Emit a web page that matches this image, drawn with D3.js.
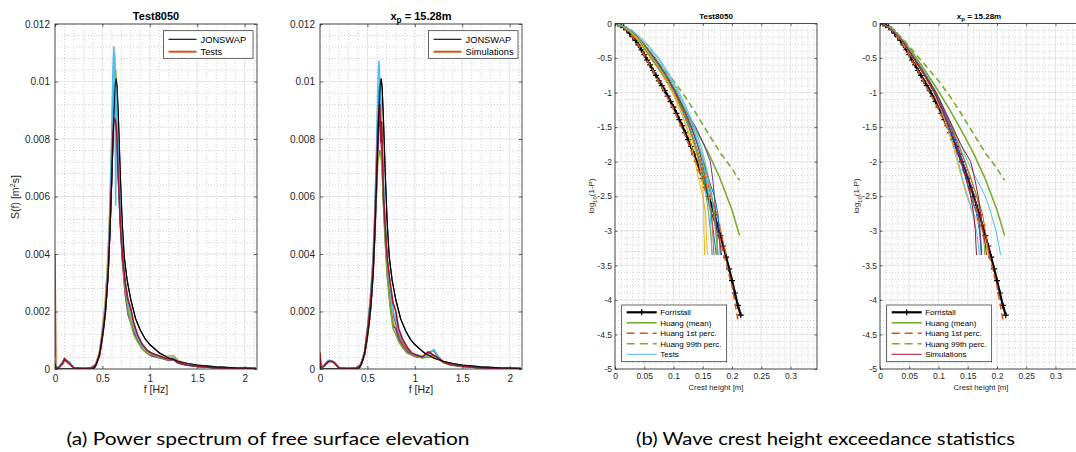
<!DOCTYPE html>
<html>
<head>
<meta charset="utf-8">
<script src="https://cdn.jsdelivr.net/npm/d3@7"></script>
<style>
body { margin: 0; background: #fff; }
</style>
</head>
<body>
<svg id="fig" width="1076" height="452"></svg>
<script>
// ---------- spectra (values in 1e-4 m^2 s) ----------
var freq = [0,0.01,0.04,0.08,0.1,0.13,0.15,0.2,0.3,0.38,0.43,0.47,0.5,0.53,0.56,0.58,0.6,0.61,0.62,0.63,0.64,0.65,0.66,0.67,0.69,0.71,0.74,0.77,0.8,0.83,0.87,0.92,0.97,1.02,1.08,1.14,1.2,1.25,1.3,1.38,1.5,1.65,1.8,2.0,2.12];

var jonFreq = [0,0.38,0.4,0.42,0.44,0.46,0.48,0.5,0.52,0.54,0.56,0.58,0.6,0.62,0.635,0.645,0.655,0.67,0.69,0.71,0.73,0.76,0.8,0.85,0.9,0.95,1.0,1.1,1.2,1.3,1.4,1.5,1.7,1.9,2.12];
var jonS = [0,0,0.05,0.6,2,4,7,11,16,23,33,48,67,88,99,101,98,86,66,50,39,31,24,17.5,13.5,10.5,8.5,5.6,3.8,2.7,1.9,1.4,0.75,0.42,0.25];

// Test8050 (measured)
var testBlue   = [2,0.4,0.5,1.8,3,2.5,2.2,0.4,0.2,0.3,1.4,5,12,21,36,52,74,88,97,96,92,86,78,68,52,40,29,22,18,15,11.5,8.5,6.5,5.5,4.5,3.8,3.5,3.8,2.4,1.6,1,0.55,0.32,0.2,0.11];
var testOrange = [40,1,0.5,2.5,3.8,2.6,1.8,0.3,0.2,0.4,1.8,6,13,22,38,55,76,86,92,88,94,90,80,70,54,41,30,23,19,16,11,8.5,6.5,5,4.5,3.8,4.2,3.5,2.2,1.5,0.9,0.5,0.3,0.2,0.1];
var testYellow = [4,0.6,0.5,2,3,2.2,2,0.4,0.2,0.3,1.6,6,14,24,40,58,82,98,108,110,100,90,80,70,54,40,30,22,18,14,11,8,6.5,5.5,4.6,4.2,4.5,4.8,3,1.8,1.1,0.6,0.35,0.2,0.12];
var testPurple = [2,0.4,0.4,1.8,3.2,2.4,1.8,0.3,0.2,0.3,1.2,4.5,11,19,33,50,70,84,90,93,90,82,74,65,50,38,26,19,16,13,10,7,5.5,4.5,4,3.6,3,3.2,2,1.4,0.9,0.5,0.3,0.18,0.1];
var testGreen  = [3,0.5,0.5,2.2,3.4,2.5,2,0.4,0.2,0.3,1.4,5,12,20,34,52,76,90,97,100,104,95,80,70,52,39,28,20,16,12,9.5,7,5.5,5,4.2,3.8,3.2,3.5,2.4,1.5,1,0.6,0.35,0.2,0.12];
var testLBlue  = [3,0.5,0.6,2.4,3.6,2.8,2.6,0.4,0.2,0.3,1.5,5.5,13,22,38,56,82,102,112,105,57,98,84,72,55,42,31,23,19,15,11,8,6.5,5.5,4.8,4.2,4,4.2,2.6,1.7,1.1,0.6,0.35,0.2,0.12];
var testDRed   = [2,0.4,0.5,2,3.5,2.6,2,0.4,0.2,0.3,1.3,5,12,20,34,50,70,81,86,87,86,82,74,65,50,40,30,24,21,16,12,8.5,6.5,5.5,4.8,4,3.6,3.4,2.3,1.5,1,0.55,0.3,0.18,0.1];

// x_p = 15.28m (simulated)
var simBlue   = [4,0.4,1,2.5,2.8,2.5,2.2,0.5,0.2,0.3,1.5,6,13,22,36,52,75,88,96,99,94,84,72,62,48,36,26,19,16,12,9,6.5,5,4.5,4.2,4.6,4.5,3.8,2.6,1.6,1,0.55,0.3,0.18,0.1];
var simOrange = [6,0.5,1,2.6,3,2.6,2,0.4,0.2,0.3,1.4,5.5,14,24,38,55,76,86,90,88,84,76,68,58,46,35,26,20,17,12,9,6.5,5,4.6,4,5,4.2,3.6,2.4,1.5,1,0.5,0.3,0.18,0.1];
var simYellow = [3,0.4,1,2.4,2.8,2.4,2,0.4,0.2,0.3,1.2,5,11,20,33,50,72,82,86,92,95,86,74,62,46,34,24,17,14,10,8,6,5,4.5,4,4.2,4,3.5,2.2,1.4,0.9,0.5,0.3,0.18,0.1];
var simPurple = [3,0.4,1,2.2,2.6,2.6,2.2,0.4,0.2,0.3,1.3,5,12,20,33,48,68,78,85,86,84,77,68,58,44,33,22,15,14,10.5,8,6,4.8,4.2,4,5.5,6.5,4,2.4,1.5,1,0.5,0.3,0.18,0.1];
var simGreen  = [3,0.4,1,2.6,3,2.6,2.2,0.4,0.2,0.3,1.3,5,12,21,34,50,64,72,74,76,75,72,65,57,43,32,22,14,12,9.5,7.5,5.5,4.8,4.4,3.8,4.2,4,3.4,2.2,1.4,0.9,0.5,0.3,0.18,0.1];
var simLBlue  = [3,0.4,1.2,2.8,3,2.8,2.4,0.5,0.2,0.3,1.6,6,14,24,39,57,82,98,107,101,90,82,74,64,50,38,28,20,17,13,10,7.5,5.5,5,4.4,4.8,6.8,4.2,2.6,1.6,1,0.55,0.32,0.2,0.11];
var simDRed   = [5,0.4,1,2.4,2.8,2.6,2.2,0.4,0.2,0.3,1.4,5.5,13,22,35,52,72,84,90,92,79,86,72,60,48,38,30,23,20,14,10.5,7.5,5.5,4.8,4.2,6,4.8,3.8,2.4,1.5,1,0.5,0.3,0.18,0.1];

// ---------- crest height exceedance ----------
var forrH = [0,0.005,0.01,0.015,0.02,0.025,0.03,0.035,0.04,0.045,0.05,0.055,0.06,0.065,0.07,0.075,0.08,0.085,0.09,0.095,0.1,0.105,0.11,0.115,0.12,0.125,0.13,0.135,0.14,0.145,0.15,0.155,0.16,0.165,0.17,0.175,0.18,0.185,0.19,0.195,0.2,0.205,0.21,0.215];
var forrLog = [0,-0.005,-0.025,-0.055,-0.09,-0.14,-0.19,-0.245,-0.31,-0.38,-0.45,-0.53,-0.6,-0.68,-0.75,-0.83,-0.9,-0.97,-1.05,-1.13,-1.21,-1.3,-1.39,-1.48,-1.58,-1.68,-1.78,-1.89,-2.0,-2.12,-2.24,-2.37,-2.5,-2.63,-2.77,-2.92,-3.07,-3.22,-3.38,-3.55,-3.72,-3.9,-4.08,-4.22];

var huangH = [0,0.02,0.04,0.06,0.08,0.1,0.12,0.14,0.16,0.18,0.2,0.213];
var huangMean = [0,-0.07,-0.25,-0.47,-0.72,-0.98,-1.26,-1.56,-1.88,-2.25,-2.7,-3.07];
var huang99 = [0,-0.06,-0.23,-0.43,-0.63,-0.83,-1.06,-1.32,-1.6,-1.87,-2.1,-2.27];
var huang1H = [0,0.02,0.04,0.06,0.08,0.1,0.12,0.14,0.16,0.18,0.2,0.21];
var huang1 = [0,-0.09,-0.31,-0.61,-0.92,-1.24,-1.62,-2.05,-2.56,-3.14,-3.8,-4.28];

// log10(1-P) levels at which the empirical curves are read
var exLevels = [0,-0.1,-0.25,-0.5,-0.75,-1,-1.25,-1.5,-1.75,-2,-2.25,-2.5,-2.75,-3,-3.2,-3.35];

var exTest1  = [0.003,0.025,0.042,0.062,0.083,0.1,0.114,0.126,0.136,0.145,0.152,0.158,0.164,0.168,0.171,0.173];
var exTest2  = [0.003,0.026,0.044,0.065,0.085,0.102,0.117,0.13,0.141,0.15,0.157,0.164,0.174,0.181,0.186,0.19];
var exTest3  = [0.003,0.024,0.04,0.06,0.081,0.098,0.111,0.123,0.134,0.143,0.149,0.151,0.152,0.152,0.153,0.153];
var exTest4  = [0.003,0.026,0.045,0.066,0.087,0.104,0.12,0.138,0.152,0.163,0.167,0.17,0.172,0.174,0.175,0.176];
var exTest5  = [0.003,0.025,0.043,0.063,0.084,0.1,0.115,0.127,0.136,0.144,0.151,0.156,0.16,0.163,0.165,0.166];
var exTest6  = [0.004,0.03,0.05,0.075,0.094,0.11,0.124,0.136,0.146,0.154,0.16,0.165,0.169,0.172,0.175,0.176];
var exTest7  = [0.003,0.027,0.046,0.068,0.088,0.105,0.119,0.131,0.141,0.149,0.155,0.16,0.165,0.175,0.18,0.182];
var exTest8  = [0.003,0.025,0.043,0.064,0.084,0.1,0.112,0.122,0.13,0.137,0.143,0.15,0.155,0.156,0.157,0.158];
var exTest9  = [0.003,0.026,0.045,0.067,0.087,0.103,0.117,0.13,0.141,0.151,0.16,0.17,0.176,0.178,0.179,0.18];
var exTest10 = [0.003,0.025,0.044,0.065,0.085,0.101,0.116,0.128,0.138,0.147,0.154,0.16,0.165,0.167,0.168,0.169];
var exTest11 = [0.004,0.029,0.049,0.073,0.092,0.108,0.122,0.134,0.143,0.15,0.156,0.161,0.163,0.164,0.165,0.166];
var exTest12 = [0.003,0.027,0.046,0.07,0.09,0.106,0.12,0.133,0.143,0.152,0.16,0.166,0.17,0.172,0.174,0.174];

var exSim1 = [0.002,0.022,0.038,0.057,0.076,0.093,0.107,0.119,0.13,0.14,0.148,0.155,0.165,0.17,0.172,0.173];
var exSim2 = [0.002,0.022,0.039,0.058,0.078,0.095,0.109,0.122,0.134,0.145,0.155,0.166,0.175,0.18,0.184,0.186];
var exSim3 = [0.002,0.021,0.037,0.056,0.075,0.091,0.104,0.115,0.124,0.132,0.14,0.148,0.16,0.175,0.182,0.185];
var exSim4 = [0.002,0.022,0.038,0.058,0.077,0.094,0.108,0.121,0.132,0.142,0.152,0.162,0.168,0.171,0.173,0.174];
var exSim5 = [0.002,0.022,0.039,0.059,0.079,0.096,0.11,0.123,0.135,0.146,0.156,0.165,0.172,0.176,0.178,0.179];
var exSim6 = [0.002,0.023,0.04,0.06,0.08,0.097,0.111,0.125,0.138,0.15,0.165,0.18,0.19,0.198,0.203,0.206];
var exSim7 = [0.002,0.022,0.038,0.057,0.076,0.092,0.105,0.117,0.126,0.134,0.141,0.15,0.158,0.165,0.168,0.17];
var exSim8 = [0.002,0.021,0.038,0.057,0.076,0.093,0.106,0.118,0.128,0.138,0.147,0.155,0.16,0.163,0.164,0.165];
var exSim9 = [0.002,0.022,0.039,0.059,0.078,0.096,0.11,0.124,0.138,0.155,0.162,0.168,0.172,0.176,0.18,0.182];

// MATLAB default colour order
var cBlue = "#0072BD", cOrange = "#D95319", cYellow = "#EDB120", cPurple = "#7E2F8E",
    cGreen = "#77AC30", cLBlue = "#4DBEEE", cDRed = "#A2142F";
var AXC = "#262626";
var FONT = "'Liberation Sans', Arial, Helvetica, sans-serif";

var svg = d3.select("#fig");

// set up one axes box with grid, returns scales + clipped plot group
function makeAxes(c) {
    var x = d3.scaleLinear().domain(c.xdom).range([c.left, c.left + c.w]);
    var y = d3.scaleLinear().domain(c.ydom).range([c.bottom, c.top]);
    var g = svg.append("g");
    svg.append("clipPath").attr("id", "clip" + c.id).append("rect")
        .attr("x", c.left).attr("y", c.top).attr("width", c.w).attr("height", c.bottom - c.top);

    // minor grid (dotted)
    g.selectAll(".mx").data(c.xminor).join("line")
        .attr("x1", function(d) { return x(d); }).attr("x2", function(d) { return x(d); })
        .attr("y1", c.top).attr("y2", c.bottom)
        .attr("stroke", "#a9a9a9").attr("stroke-width", 0.7).attr("stroke-dasharray", "0.8,2.2");
    g.selectAll(".my").data(c.yminor).join("line")
        .attr("y1", function(d) { return y(d); }).attr("y2", function(d) { return y(d); })
        .attr("x1", c.left).attr("x2", c.left + c.w)
        .attr("stroke", "#a9a9a9").attr("stroke-width", 0.7).attr("stroke-dasharray", "0.8,2.2");
    // major grid
    g.selectAll(".gx").data(c.xticks).join("line")
        .attr("x1", function(d) { return x(d); }).attr("x2", function(d) { return x(d); })
        .attr("y1", c.top).attr("y2", c.bottom)
        .attr("stroke", "#e2e2e2").attr("stroke-width", 0.7);
    g.selectAll(".gy").data(c.yticks).join("line")
        .attr("y1", function(d) { return y(d); }).attr("y2", function(d) { return y(d); })
        .attr("x1", c.left).attr("x2", c.left + c.w)
        .attr("stroke", "#e2e2e2").attr("stroke-width", 0.7);

    var plot = svg.append("g").attr("clip-path", "url(#clip" + c.id + ")");
    return { x: x, y: y, g: g, plot: plot, c: c };
}

// box, inward ticks on all four sides, tick labels
function frame(ax) {
    var c = ax.c;
    var g = svg.append("g");
    var fmt = function(d) { return String(d); };
    var bx = g.append("g").attr("transform", "translate(0," + c.bottom + ")")
        .call(d3.axisBottom(ax.x).tickValues(c.xticks).tickSizeInner(-c.tl).tickSizeOuter(0).tickPadding(c.xpad).tickFormat(fmt));
    var tx = g.append("g").attr("transform", "translate(0," + c.top + ")")
        .call(d3.axisTop(ax.x).tickValues(c.xticks).tickSizeInner(-c.tl).tickSizeOuter(0).tickFormat(""));
    var ly = g.append("g").attr("transform", "translate(" + c.left + ",0)")
        .call(d3.axisLeft(ax.y).tickValues(c.yticks).tickSizeInner(-c.tl).tickSizeOuter(0).tickPadding(c.ypad).tickFormat(fmt));
    var ry = g.append("g").attr("transform", "translate(" + (c.left + c.w) + ",0)")
        .call(d3.axisRight(ax.y).tickValues(c.yticks).tickSizeInner(-c.tl).tickSizeOuter(0).tickFormat(""));
    [bx, tx, ly, ry].forEach(function(a) {
        a.select(".domain").remove();
        a.selectAll("line").attr("stroke", AXC).attr("stroke-width", 0.7);
        a.selectAll("text").attr("fill", AXC).style("font-size", c.fs + "px").style("font-family", FONT);
    });
    g.append("rect").attr("x", c.left).attr("y", c.top).attr("width", c.w)
        .attr("height", c.bottom - c.top).attr("fill", "none")
        .attr("stroke", AXC).attr("stroke-width", 0.8);
}

function xyLine(ax) {
    return d3.line().x(function(d) { return ax.x(d[0]); }).y(function(d) { return ax.y(d[1]); });
}

// ---------- spectrum panels ----------
function spectrumPanel(id, left, tests, legendLabel) {
    var ax = makeAxes({
        id: id, left: left, w: 202, top: 24, bottom: 369,
        xdom: [0, 2.13], ydom: [0, 0.012],
        xticks: [0, 0.5, 1, 1.5, 2],
        yticks: [0, 0.002, 0.004, 0.006, 0.008, 0.01, 0.012],
        xminor: d3.range(0.1, 2.13, 0.1),
        yminor: d3.range(0.0004, 0.012, 0.0004),
        fs: 10, tl: 3, xpad: 6, ypad: 5
    });
    var line = xyLine(ax);
    var jon = jonFreq.map(function(f, i) { return [f, jonS[i] * 1e-4]; });
    ax.plot.append("path").attr("d", line(jon)).attr("fill", "none")
        .attr("stroke", "#000").attr("stroke-width", 1.2);
    tests.forEach(function(t) {
        var pts = freq.map(function(f, i) { return [f, t.v[i] * 1e-4]; });
        ax.plot.append("path").attr("d", line(pts)).attr("fill", "none")
            .attr("stroke", t.c).attr("stroke-width", 1.6).attr("stroke-linejoin", "round");
    });
    // JONSWAP peak stays readable above the bundle
    ax.plot.append("path").attr("d", line(jon)).attr("fill", "none")
        .attr("stroke", "#000").attr("stroke-width", 1.1).attr("stroke-opacity", 0.85);
    frame(ax);

    // legend
    var lx = left + 108.5, ly = 30.7;
    var lg = svg.append("g");
    lg.append("rect").attr("x", lx).attr("y", ly).attr("width", 89.5).attr("height", 27.6)
        .attr("fill", "#fff").attr("stroke", AXC).attr("stroke-width", 0.7);
    lg.append("line").attr("x1", lx + 5).attr("x2", lx + 33).attr("y1", 39.3).attr("y2", 39.3)
        .attr("stroke", "#000").attr("stroke-width", 1.1);
    lg.append("line").attr("x1", lx + 5).attr("x2", lx + 33).attr("y1", 51.7).attr("y2", 51.7)
        .attr("stroke", cOrange).attr("stroke-width", 2);
    lg.append("text").attr("x", lx + 37).attr("y", 42.6).text("JONSWAP");
    lg.append("text").attr("x", lx + 37).attr("y", 55).text(legendLabel);
    lg.selectAll("text").attr("fill", "#000").style("font-size", "9.3px").style("font-family", FONT);

    // x label
    svg.append("text").attr("x", left + 101).attr("y", 393).attr("text-anchor", "middle")
        .attr("fill", AXC).style("font-size", "10.5px").style("font-family", FONT).text("f [Hz]");
    return ax;
}

spectrumPanel(1, 55, [
    { v: testBlue, c: cBlue }, { v: testOrange, c: cOrange }, { v: testYellow, c: cYellow },
    { v: testPurple, c: cPurple }, { v: testGreen, c: cGreen }, { v: testLBlue, c: cLBlue },
    { v: testDRed, c: cDRed }
], "Tests");

spectrumPanel(2, 320, [
    { v: simBlue, c: cBlue }, { v: simOrange, c: cOrange }, { v: simYellow, c: cYellow },
    { v: simPurple, c: cPurple }, { v: simGreen, c: cGreen }, { v: simLBlue, c: cLBlue },
    { v: simDRed, c: cDRed }
], "Simulations");

// y label panel (a)
svg.append("text").attr("transform", "translate(19,197) rotate(-90)").attr("text-anchor", "middle")
    .attr("fill", AXC).style("font-size", "10.5px").style("font-family", FONT)
    .call(function(t) {
        t.append("tspan").text("S(f) [m");
        t.append("tspan").attr("dy", -4).style("font-size", "7.5px").text("2");
        t.append("tspan").attr("dy", 4).text("s]");
    });

// titles
function title(x, y, fs, sub) {
    var t = svg.append("text").attr("x", x).attr("y", y).attr("text-anchor", "middle")
        .attr("fill", "#000").style("font-size", fs + "px").style("font-weight", "bold").style("font-family", FONT);
    if (!sub) { t.text("Test8050"); return; }
    t.append("tspan").text("x");
    t.append("tspan").attr("dy", fs * 0.3).style("font-size", (fs * 0.75) + "px").text("p");
    t.append("tspan").attr("dy", -fs * 0.3).text(" = 15.28m");
}
title(156, 19.5, 11, false);
title(421, 19.5, 11, true);
title(716, 19, 8, false);
title(979, 19, 8, true);

// ---------- exceedance panels ----------
function exceedPanel(id, left, tests, legendLabel, legendColor) {
    var ax = makeAxes({
        id: id, left: left, w: 202, top: 23.5, bottom: 369,
        xdom: [0, 0.3453], ydom: [-5, 0],
        xticks: [0, 0.05, 0.1, 0.15, 0.2, 0.25, 0.3],
        yticks: [-5, -4.5, -4, -3.5, -3, -2.5, -2, -1.5, -1, -0.5, 0],
        xminor: d3.range(0.01, 0.345, 0.01),
        yminor: d3.range(-4.9, 0, 0.1),
        fs: 8.5, tl: 2.5, xpad: 4, ypad: 3
    });
    var line = xyLine(ax);
    // drawn in legend order: Forristall, Huang curves, then the empirical curves on top
    var forr = forrH.map(function(h, i) { return [h, forrLog[i]]; });
    ax.plot.append("path").attr("d", line(forr)).attr("fill", "none")
        .attr("stroke", "#000").attr("stroke-width", 2.2);
    ax.plot.selectAll(".plus").data(forr).join("path")
        .attr("transform", function(d) { return "translate(" + ax.x(d[0]) + "," + ax.y(d[1]) + ")"; })
        .attr("d", "M-3,0H3M0,-3V3").attr("stroke", "#000").attr("stroke-width", 1.2);
    ax.plot.append("path").attr("d", line(huangH.map(function(h, i) { return [h, huangMean[i]]; })))
        .attr("fill", "none").attr("stroke", cGreen).attr("stroke-width", 1.6);
    ax.plot.append("path").attr("d", line(huang1H.map(function(h, i) { return [h, huang1[i]]; })))
        .attr("fill", "none").attr("stroke", cOrange).attr("stroke-width", 1.6).attr("stroke-dasharray", "6,4");
    ax.plot.append("path").attr("d", line(huangH.map(function(h, i) { return [h, huang99[i]]; })))
        .attr("fill", "none").attr("stroke", cGreen).attr("stroke-width", 1.6).attr("stroke-dasharray", "6,4");
    tests.forEach(function(t) {
        var pts = exLevels.map(function(l, i) { return [t.v[i], l]; });
        ax.plot.append("path").attr("d", line(pts)).attr("fill", "none")
            .attr("stroke", t.c).attr("stroke-width", 1).attr("stroke-linejoin", "round");
    });
    frame(ax);

    // legend
    var lx = left + 6.7, ly = 305;
    var lg = svg.append("g");
    lg.append("rect").attr("x", lx).attr("y", ly).attr("width", 105).attr("height", 56.7)
        .attr("fill", "#fff").attr("stroke", AXC).attr("stroke-width", 0.7);
    var items = [
        { t: "Forristall", c: "#000", w: 2.2, dash: null, mark: true },
        { t: "Huang (mean)", c: cGreen, w: 1.6, dash: null },
        { t: "Huang 1st perc.", c: cOrange, w: 1.6, dash: "8,5" },
        { t: "Huang 99th perc.", c: cGreen, w: 1.6, dash: "8,5" },
        { t: legendLabel, c: legendColor, w: 1, dash: null }
    ];
    items.forEach(function(it, i) {
        var yy = 312.3 + i * 10.5;
        var ln = lg.append("line").attr("x1", lx + 5).attr("x2", lx + 35).attr("y1", yy).attr("y2", yy)
            .attr("stroke", it.c).attr("stroke-width", it.w);
        if (it.dash) ln.attr("stroke-dasharray", it.dash);
        if (it.mark) lg.append("path").attr("transform", "translate(" + (lx + 20) + "," + yy + ")")
            .attr("d", "M-3,0H3M0,-3V3").attr("stroke", "#000").attr("stroke-width", 1.2);
        lg.append("text").attr("x", lx + 38.5).attr("y", yy + 3).text(it.t);
    });
    lg.selectAll("text").attr("fill", "#000").style("font-size", "8px").style("font-family", FONT);

    svg.append("text").attr("x", left + 101).attr("y", 390).attr("text-anchor", "middle")
        .attr("fill", AXC).style("font-size", "7.8px").style("font-family", FONT).text("Crest height [m]");
    svg.append("text").attr("transform", "translate(" + (left - 21) + ",196) rotate(-90)")
        .attr("text-anchor", "middle").attr("fill", AXC).style("font-size", "8px").style("font-family", FONT)
        .call(function(t) {
            t.append("tspan").text("log");
            t.append("tspan").attr("dy", 2.5).style("font-size", "6px").text("10");
            t.append("tspan").attr("dy", -2.5).text("(1-P)");
        });
}

exceedPanel(3, 615, [
    { v: exTest1, c: cBlue }, { v: exTest2, c: cOrange }, { v: exTest3, c: cYellow },
    { v: exTest4, c: cPurple }, { v: exTest5, c: cGreen }, { v: exTest6, c: cLBlue },
    { v: exTest7, c: cDRed }, { v: exTest9, c: cBlue }, { v: exTest10, c: cOrange },
    { v: exTest8, c: cYellow }, { v: exTest12, c: cGreen }, { v: exTest11, c: cLBlue }
], "Tests", cLBlue);

exceedPanel(4, 880, [
    { v: exSim1, c: cBlue }, { v: exSim2, c: cOrange }, { v: exSim3, c: cYellow },
    { v: exSim4, c: cPurple }, { v: exSim5, c: cGreen }, { v: exSim6, c: cLBlue },
    { v: exSim9, c: cDRed }, { v: exSim7, c: cLBlue }, { v: exSim8, c: cDRed }
], "Simulations", cDRed);

// ---------- sub-figure captions ----------
svg.append("text").attr("x", 268).attr("y", 445).attr("text-anchor", "middle")
    .attr("textLength", 403).attr("lengthAdjust", "spacingAndGlyphs")
    .style("font-family", "Lato, 'DejaVu Sans', sans-serif").style("font-size", "17.5px").attr("fill", "#000")
    .text("(a) Power spectrum of free surface elevation");
svg.append("text").attr("x", 825.5).attr("y", 445).attr("text-anchor", "middle")
    .attr("textLength", 379).attr("lengthAdjust", "spacingAndGlyphs")
    .style("font-family", "Lato, 'DejaVu Sans', sans-serif").style("font-size", "17.5px").attr("fill", "#000")
    .text("(b) Wave crest height exceedance statistics");
</script>
</body>
</html>
